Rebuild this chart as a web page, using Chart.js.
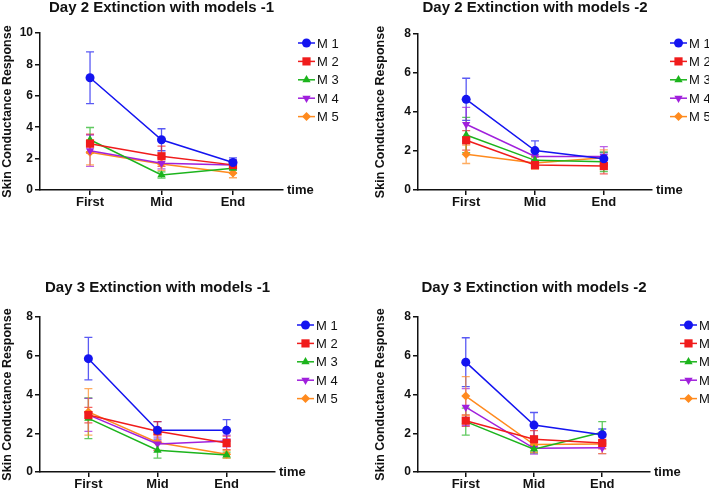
<!DOCTYPE html>
<html>
<head>
<meta charset="utf-8">
<script src="https://cdn.jsdelivr.net/npm/chart.js@4"></script>
<style>
  body { margin: 0; width: 709px; height: 489px; background: #fff; position: relative; overflow: hidden; }
  .panel { position: absolute; }
</style>
</head>
<body>
<div class="panel" style="left:0px;top:0px;width:354px;height:215px"><canvas id="c1"></canvas></div>
<div class="panel" style="left:355px;top:0px;width:354px;height:215px"><canvas id="c2"></canvas></div>
<div class="panel" style="left:0px;top:245px;width:354px;height:244px"><canvas id="c3"></canvas></div>
<div class="panel" style="left:355px;top:245px;width:354px;height:244px"><canvas id="c4"></canvas></div>
<script>
// categories and series
const categories = ['First', 'Mid', 'End'];
const seriesNames = ['M 1', 'M 2', 'M 3', 'M 4', 'M 5'];

// means per series (rows) x time point (cols), and the error bar half-lengths
const day2Models1Mean = [[7.15, 3.2, 1.75], [2.95, 2.15, 1.6], [3.2, 0.96, 1.38], [2.5, 1.7, 1.6], [2.4, 1.65, 1.08]];
const day2Models1Err  = [[1.65, 0.7, 0.3], [0.6, 0.65, 0.3], [0.78, 0.2, 0.3], [1.0, 0.35, 0.3], [0.8, 0.4, 0.3]];

const day2Models2Mean = [[4.65, 2.02, 1.6], [2.55, 1.28, 1.23], [2.82, 1.52, 1.45], [3.37, 1.72, 1.72], [1.83, 1.38, 1.66]];
const day2Models2Err  = [[1.08, 0.5, 0.3], [0.5, 0.2, 0.4], [0.9, 0.2, 0.5], [0.87, 0.3, 0.5], [0.47, 0.3, 0.4]];

const day3Models1Mean = [[5.85, 2.15, 2.15], [2.94, 2.1, 1.5], [2.77, 1.12, 0.88], [2.95, 1.45, 1.6], [3.1, 1.52, 0.92]];
const day3Models1Err  = [[1.1, 0.45, 0.55], [0.4, 0.5, 0.35], [1.05, 0.4, 0.15], [0.85, 0.35, 0.3], [1.2, 0.4, 0.2]];

const day3Models2Mean = [[5.67, 2.42, 1.92], [2.65, 1.69, 1.5], [2.6, 1.18, 2.05], [3.35, 1.22, 1.25], [3.92, 1.42, 1.45]];
const day3Models2Err  = [[1.26, 0.65, 0.3], [0.3, 0.45, 0.3], [0.7, 0.2, 0.55], [0.95, 0.3, 0.3], [1.0, 0.4, 0.5]];

// look
const colors = ['#1414f0', '#f01c1c', '#1cb41c', '#a020dc', '#ff8a1e'];
const markers = ['circle', 'rect', 'triangle', 'triangle', 'rectRot'];
const rotations = [0, 0, 0, 180, 0];
const radii = [4.5, 5.8, 4.8, 4.8, 4.5];
const FONT = '"Liberation Sans", Arial, sans-serif';

const decor = {
  id: 'decor',
  beforeDatasetsDraw(chart, args, opts) {
    const { ctx, scales: { x, y } } = chart;
    ctx.save();
    ctx.lineWidth = 1.3;
    ctx.globalAlpha = 0.7;
    opts.errors.forEach((row, i) => {
      ctx.strokeStyle = colors[i];
      row.forEach((e, j) => {
        const m = opts.means[i][j];
        const px = x.getPixelForValue(j);
        const top = y.getPixelForValue(m + e);
        const bot = y.getPixelForValue(m - e);
        ctx.beginPath();
        ctx.moveTo(px, top); ctx.lineTo(px, bot);
        ctx.moveTo(px - 4, top); ctx.lineTo(px + 4, top);
        ctx.moveTo(px - 4, bot); ctx.lineTo(px + 4, bot);
        ctx.stroke();
      });
    });
    ctx.restore();
  },
  afterDraw(chart, args, opts) {
    const { ctx, chartArea } = chart;
    ctx.save();
    ctx.fillStyle = '#111';
    ctx.font = 'bold 15px ' + FONT;
    ctx.textAlign = 'center';
    ctx.textBaseline = 'middle';
    ctx.fillText(opts.title, (chartArea.left + chartArea.right) / 2, opts.titleY);
    ctx.font = 'bold 13px ' + FONT;
    ctx.textAlign = 'left';
    ctx.fillText('time', chartArea.right + 4, chartArea.bottom);
    // legend: line + marker + label
    ctx.font = '13px ' + FONT;
    seriesNames.forEach((name, i) => {
      const ly = chartArea.top + opts.legendTop + i * 18.4;
      ctx.strokeStyle = colors[i];
      ctx.fillStyle = colors[i];
      ctx.lineWidth = 1.5;
      ctx.beginPath();
      ctx.moveTo(opts.legendX, ly); ctx.lineTo(opts.legendX + 17, ly);
      ctx.stroke();
      Chart.helpers.drawPoint(ctx, { pointStyle: markers[i], rotation: rotations[i], radius: radii[i], borderWidth: 0 }, opts.legendX + 8.5, ly);
      ctx.fillStyle = '#111';
      ctx.fillText(name, opts.legendX + 19, ly + 1);
    });
    ctx.restore();
  }
};

function makePanel(id, title, means, errs, yMax, p) {
  const datasets = seriesNames.map((name, i) => ({
    label: name,
    data: means[i].map((v, j) => ({ x: j, y: v })),
    borderColor: colors[i],
    backgroundColor: colors[i],
    borderWidth: 1.5,
    pointStyle: markers[i],
    pointRotation: rotations[i],
    pointRadius: radii[i],
    pointBorderWidth: 0,
    tension: 0
  }));
  new Chart(document.getElementById(id), {
    type: 'line',
    data: { datasets },
    options: {
      responsive: true,
      maintainAspectRatio: false,
      animation: false,
      layout: { padding: { top: p.top, right: p.w - p.right, left: p.padLeft, bottom: 0 } },
      plugins: {
        legend: { display: false },
        tooltip: { enabled: false },
        decor: { title, means, errors: errs, titleY: p.titleY, legendX: p.legendX, legendTop: p.legendTop }
      },
      scales: {
        x: {
          type: 'linear',
          min: -0.7,
          max: 2.7,
          afterBuildTicks: (s) => { s.ticks = categories.map((c, i) => ({ value: i })); },
          afterFit: (s) => { s.height = p.h - p.bottom; },
          ticks: { callback: (v) => categories[v], color: '#111', font: { family: FONT, size: 13, weight: 'bold' }, padding: 0, maxRotation: 0 },
          grid: { drawOnChartArea: false, drawTicks: true, tickLength: 5, color: '#111', lineWidth: 1.5 },
          border: { display: true, color: '#111', width: 1.5 }
        },
        y: {
          min: 0,
          max: yMax,
          afterFit: (s) => { s.width = p.left - p.padLeft; },
          ticks: { stepSize: 2, color: '#111', font: { family: FONT, size: 12, weight: 'bold' }, padding: 2 },
          grid: { drawOnChartArea: false, drawTicks: true, tickLength: 5, color: '#111', lineWidth: 1.5 },
          border: { display: true, color: '#111', width: 1.5 },
          title: { display: true, text: 'Skin Conductance Response', color: '#111', font: { family: FONT, size: 12.5, weight: 'bold' }, padding: 0 }
        }
      }
    },
    plugins: [decor]
  });
}

makePanel('c1', 'Day 2 Extinction with models -1', day2Models1Mean, day2Models1Err, 10,
  { w: 354, h: 215, left: 40, right: 283, top: 33, bottom: 190, padLeft: 0, titleY: 8, legendX: 298, legendTop: 10 });
makePanel('c2', 'Day 2 Extinction with models -2', day2Models2Mean, day2Models2Err, 8,
  { w: 354, h: 215, left: 63, right: 297, top: 34, bottom: 190, padLeft: 18, titleY: 8, legendX: 315, legendTop: 9 });
makePanel('c3', 'Day 3 Extinction with models -1', day3Models1Mean, day3Models1Err, 8,
  { w: 354, h: 244, left: 40, right: 275, top: 72, bottom: 227, padLeft: 0, titleY: 43, legendX: 297, legendTop: 8 });
makePanel('c4', 'Day 3 Extinction with models -2', day3Models2Mean, day3Models2Err, 8,
  { w: 354, h: 244, left: 63, right: 295, top: 72, bottom: 227, padLeft: 18, titleY: 43, legendX: 325, legendTop: 8 });
</script>
</body>
</html>
